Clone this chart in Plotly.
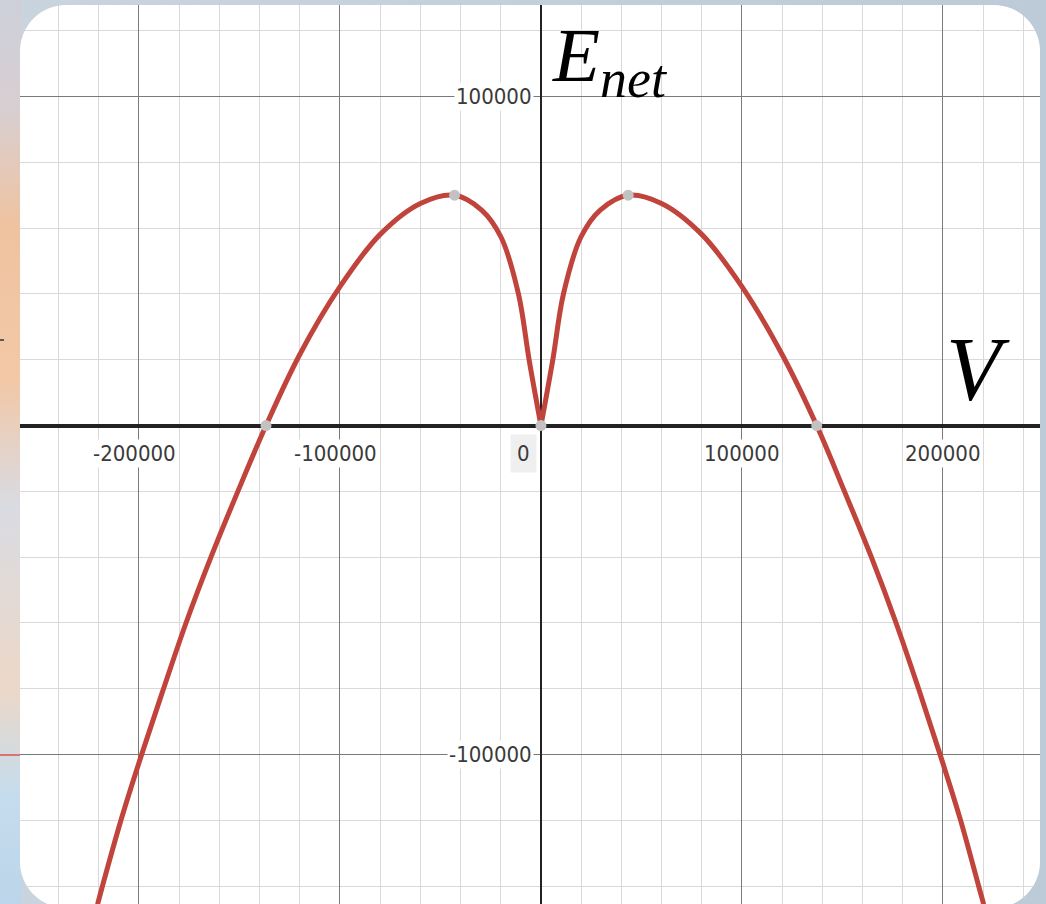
import base64
import plotly.graph_objects as go

# curve (V, E_net), one list per branch
left_v = [-220600, -218200, -209000, -198700, -187800, -176600, -164200, -150800,
          -136800, -120000, -100000, -80000, -60000, -43000, -29500, -19900,
          -11200, -5900, 0]
left_e = [-145500, -140000, -120000, -100000, -80000, -60000, -40000, -20000,
          0, 21600, 42200, 58100, 67500, 70000, 65500, 57300,
          40000, 20000, 0]
right_v = [0, 5900, 11200, 19900, 29500, 43400, 60000, 80000, 100000, 120000,
           137200, 151000, 164400, 176700, 187900, 198600, 208800, 217800, 220300]
right_e = [0, 20000, 40000, 57300, 65500, 70000, 67500, 58100, 42200, 21600,
           0, -20000, -40000, -60000, -80000, -100000, -120000, -140000, -145500]

# highlighted points (roots and maxima)
pt_v = [-136800, 0, 137200, -43000, 43400]
pt_e = [0, 0, 0, 70000, 70000]

x_ticks = [-200000, -100000, 100000, 200000]
y_ticks = [100000, -100000]
x_range = [-259200, 248300]
y_range = [-145400, 127800]

# plot area in pixels (the white card)
PL, PT, PW, PH = 20, 5, 1020, 899
W, H = 1046, 904

RED = "#c1443c"
TICK_FONT = dict(family="Liberation Sans Narrow, Arial Narrow, DejaVu Sans Condensed, sans-serif",
                 size=22, color="#3a3a3a")
MATH_FONT = "Liberation Serif, Times New Roman, serif"

fig = go.Figure()
for vx, ey in [(left_v, left_e), (right_v, right_e)]:
    fig.add_trace(go.Scatter(x=vx, y=ey, mode="lines", line_shape="spline",
                             line=dict(color=RED, width=5, smoothing=1.0),
                             hoverinfo="skip", showlegend=False))
fig.add_trace(go.Scatter(x=pt_v, y=pt_e, mode="markers",
                         marker=dict(color="#c2c2c2", size=11), showlegend=False))

axis_common = dict(
    dtick=100000, tick0=0, showticklabels=False, ticks="",
    gridcolor="#7a7a7a", gridwidth=1.3,
    minor=dict(dtick=20000, tick0=0, showgrid=True, gridcolor="#d9d9d9", gridwidth=1.3),
    zeroline=True, zerolinecolor="#222222", showline=False, fixedrange=True,
)
fig.update_xaxes(range=x_range, zerolinewidth=1.8, **axis_common)
fig.update_yaxes(range=y_range, zerolinewidth=3.5, **axis_common)

# tick labels sit on the axes, Desmos style, with a white halo
for t in x_ticks:
    fig.add_annotation(x=t, y=0, xref="x", yref="y", text=str(t), showarrow=False,
                       xshift=-4 if t < 0 else 0, yshift=-28, yanchor="middle",
                       font=TICK_FONT, bgcolor="white", borderpad=1)
for t in y_ticks:
    fig.add_annotation(x=0, y=t, xref="x", yref="y", text=str(t), showarrow=False,
                       xanchor="right", xshift=-7, yanchor="middle",
                       font=TICK_FONT, bgcolor="white", borderpad=1)
fig.add_annotation(x=0, y=0, xref="x", yref="y", text="0", showarrow=False,
                   xanchor="right", xshift=-4, yshift=-28, yanchor="middle",
                   font=TICK_FONT, bgcolor="#efefef", borderpad=6)


def fx(p):
    return (p - PL) / PW


def fy(p):
    return 1 - (p - PT) / PH


# axis names
fig.add_annotation(x=fx(550), y=fy(10), xref="paper", yref="paper", xanchor="left", yanchor="top",
                   text="<i>E</i><sub><i>net</i></sub>", showarrow=False,
                   font=dict(family=MATH_FONT, size=77, color="black"))
fig.add_annotation(x=fx(944), y=fy(318), xref="paper", yref="paper", xanchor="left", yanchor="top",
                   text="<i>V</i>", showarrow=False,
                   font=dict(family=MATH_FONT, size=90, color="black"))

# background around the rounded card
svg = f"""<svg xmlns="http://www.w3.org/2000/svg" width="{W}" height="{H}" viewBox="0 0 {W} {H}">
<defs>
<linearGradient id="side" x1="0" y1="0" x2="0" y2="1">
<stop offset="0" stop-color="#cdd0da"/>
<stop offset="0.12" stop-color="#d8cfd2"/>
<stop offset="0.25" stop-color="#efc3a0"/>
<stop offset="0.42" stop-color="#f2c8a6"/>
<stop offset="0.56" stop-color="#d9dbe2"/>
<stop offset="0.76" stop-color="#ecd8c8"/>
<stop offset="0.88" stop-color="#c5dced"/>
<stop offset="1" stop-color="#bcd5ea"/>
</linearGradient>
<linearGradient id="base" x1="0" y1="0" x2="1" y2="0">
<stop offset="0" stop-color="#cad4df"/>
<stop offset="1" stop-color="#bccbd7"/>
</linearGradient>
<mask id="hole">
<rect width="{W}" height="{H}" fill="white"/>
<rect x="{PL}" y="{PT}" width="{PW}" height="903" rx="46" fill="black"/>
</mask>
</defs>
<g mask="url(#hole)">
<rect width="{W}" height="{H}" fill="url(#base)"/>
<rect width="22" height="{H}" fill="url(#side)"/>
<line x1="0" y1="755" x2="22" y2="755" stroke="#d9534f" stroke-width="1.5"/>
<line x1="0" y1="340" x2="4" y2="340" stroke="#333" stroke-width="1.5"/>
</g>
</svg>"""
src = "data:image/svg+xml;base64," + base64.b64encode(svg.encode()).decode()
fig.add_layout_image(source=src, xref="paper", yref="paper", x=-PL / PW, y=1 + PT / PH,
                     sizex=W / PW, sizey=H / PH, sizing="stretch",
                     xanchor="left", yanchor="top", layer="above")

fig.update_layout(
    width=W, height=H,
    margin=dict(l=PL, r=W - PL - PW, t=PT, b=H - PT - PH),
    paper_bgcolor="#c6d2de", plot_bgcolor="white",
)

fig.write_html("out.html", config={"displayModeBar": False},
               post_script="document.body.style.margin='0';")
